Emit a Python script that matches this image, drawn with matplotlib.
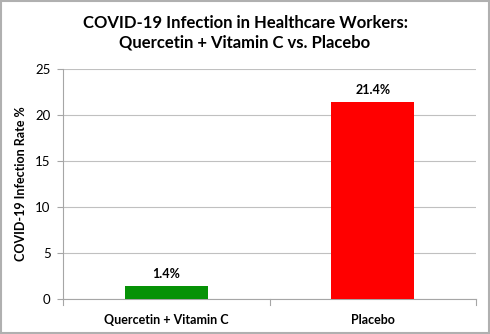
import matplotlib
matplotlib.use("Agg")
import matplotlib.pyplot as plt
from matplotlib.patches import Rectangle

categories = ["Quercetin + Vitamin C", "Placebo"]
values = [1.4, 21.4]
labels = ["1.4%", "21.4%"]
colors = ["#069206", "#ff0000"]
yticks = [0, 5, 10, 15, 20, 25]

plt.rcParams['font.family'] = ['Lato', 'DejaVu Sans']
fig = plt.figure(figsize=(4.9, 3.34), dpi=100)
ax = fig.add_axes([0.1286, 0.1048, 0.8428, 0.6886])

x = [0, 1]
ax.bar(x, values, width=0.4, color=colors, zorder=3)
for xi, v, l in zip(x, values, labels):
    ax.text(xi, v + 0.7, l, ha='center', va='bottom', fontsize=9, fontweight='bold')

ax.set_xlim(-0.5, 1.5)
ax.set_ylim(0, 25)
ax.set_yticks(yticks)
ax.set_yticklabels([str(t) for t in yticks], fontsize=9.5)
ax.yaxis.grid(True, color='#c0c0c0', linewidth=0.8, zorder=0)
ax.set_xticks(x)
ax.set_xticklabels(categories, fontsize=9, fontweight='bold')
ax.tick_params(axis='x', length=0, pad=11)
ax.tick_params(axis='y', length=4, color='#a6a6a6', pad=5)
for xs in [-0.5, 0.5, 1.5]:
    ax.plot([xs, xs], [0, -0.6], color='#a6a6a6', lw=0.8, clip_on=False)
for s in ['top', 'right']:
    ax.spines[s].set_visible(False)
for s in ['left', 'bottom']:
    ax.spines[s].set_color('#a6a6a6')
    ax.spines[s].set_linewidth(0.8)

ax.set_ylabel("COVID-19 Infection Rate %", fontsize=9, fontweight='bold', labelpad=6)
fig.text(0.5, 0.901, "COVID-19 Infection in Healthcare Workers:\nQuercetin + Vitamin C vs. Placebo",
         ha='center', va='center', fontsize=12, fontweight='bold', linespacing=1.25)

fig.patches.append(Rectangle((0.002, 0.003), 0.996, 0.994, transform=fig.transFigure,
                             fill=False, edgecolor='#b0b0b0', linewidth=1.5))
fig.savefig("out.png", dpi=100)
